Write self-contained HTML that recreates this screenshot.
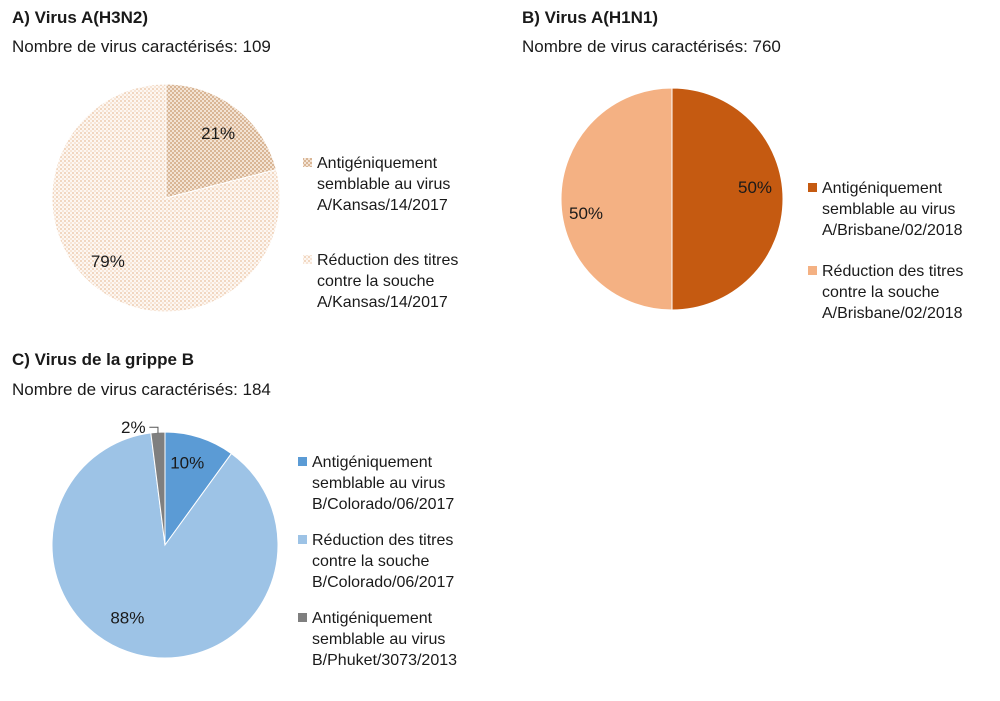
<!DOCTYPE html>
<html><head><meta charset="utf-8"><style>
body{margin:0;background:#fff;width:1000px;height:696px;overflow:hidden;font-family:"Liberation Sans",sans-serif}
svg text{font-family:"Liberation Sans",sans-serif;fill:#1a1a1a}
</style></head><body>
<svg id="c" width="1000" height="696">
<defs>
<pattern id="pd" width="4" height="4" patternUnits="userSpaceOnUse"><rect width="4" height="4" fill="#f3e3d4"/><rect width="2" height="2" fill="#d9b696"/><rect x="2" y="2" width="2" height="2" fill="#d9b696"/></pattern>
<pattern id="pl" width="4" height="4" patternUnits="userSpaceOnUse"><rect width="4" height="4" fill="#fdf7f2"/><rect width="2" height="2" fill="#f1d7c1"/><rect x="2" y="2" width="2" height="2" fill="#f7e5d6"/></pattern>
</defs>
<text x="12" y="23" font-size="17" font-weight="bold">A) Virus A(H3N2)</text>
<text x="12" y="52" font-size="17">Nombre de virus caractérisés:  109</text>
<text x="522" y="23" font-size="17" font-weight="bold">B) Virus A(H1N1)</text>
<text x="522" y="52" font-size="17">Nombre de virus caractérisés:  760</text>
<text x="12" y="365" font-size="17" font-weight="bold">C) Virus de la grippe B</text>
<text x="12" y="395" font-size="17">Nombre de virus caractérisés:  184</text>
<g id="pies"></g>
</svg>
<script>
const aValues=[21,79];
const aLabels=["21%","79%"];
const bValues=[50,50];
const bLabels=["50%","50%"];
const cValues=[10,88,2];
const cLabels=["10%","88%","2%"];
const aLegend=[["Antigéniquement","semblable au virus","A/Kansas/14/2017"],["Réduction des titres","contre la souche","A/Kansas/14/2017"]];
const bLegend=[["Antigéniquement","semblable au virus","A/Brisbane/02/2018"],["Réduction des titres","contre la souche","A/Brisbane/02/2018"]];
const cLegend=[["Antigéniquement","semblable au virus","B/Colorado/06/2017"],["Réduction des titres","contre la souche","B/Colorado/06/2017"],["Antigéniquement","semblable au virus","B/Phuket/3073/2013"]];
const NS="http://www.w3.org/2000/svg";
const g=document.getElementById('pies');
function mk(t,a,p){const e=document.createElementNS(NS,t);for(const k in a)e.setAttribute(k,a[k]);(p||g).appendChild(e);return e;}
function pie(key,vals,labels,fills,cx,cy,r,lblR,off,legend,lx,ly,lgap){
  const tot=vals.reduce((s,v)=>s+v,0);let a0=0;
  vals.forEach((v,i)=>{
    const a1=a0+v/tot*2*Math.PI;
    const x0=cx+r*Math.sin(a0),y0=cy-r*Math.cos(a0),x1=cx+r*Math.sin(a1),y1=cy-r*Math.cos(a1);
    const big=(a1-a0)>Math.PI?1:0;
    const p=mk('path',{d:`M${cx},${cy}L${x0},${y0}A${r},${r} 0 ${big} 1 ${x1},${y1}Z`,fill:fills[i],stroke:'#fff','stroke-width':1});
    
    
    const am=(a0+a1)/2;
    const lr=lblR[i];
    const tx=cx+lr*Math.sin(am)+off[i][0],ty=cy-lr*Math.cos(am)+off[i][1];
    const t=mk('text',{x:tx,y:ty+6,'font-size':17,'text-anchor':'middle'});t.textContent=labels[i];
    
    
    if(lr>r){const ex=cx+(r-1)*Math.sin(am),ey=cy-(r-1)*Math.cos(am);
      const l=mk('path',{d:`M${tx+16},${ty}L${ex},${ty}L${ex},${ey}`,fill:'none',stroke:'#555','stroke-width':1});
      
      }
    a0=a1;
  });
  legend.forEach((lines,i)=>{
    const y=ly+i*lgap;
    const m=mk('rect',{x:lx,y:y-10,width:9,height:9,fill:fills[i]});
    
    
    lines.forEach((s,j)=>{const t=mk('text',{x:lx+14,y:y+j*21,'font-size':16});t.textContent=s;
      
      });
  });
}
pie('pie-a',aValues,aLabels,['url(#pd)','url(#pl)'],166,198,114,[72,72],[[8,-8],[-14,6]],aLegend,303,168,97);
pie('pie-b',bValues,bLabels,['#c55a11','#f4b183'],672,199,111,[85,85],[[-2,-12],[-1,14]],bLegend,808,193,83);
pie('pie-c',cValues,cLabels,['#5b9bd5','#9dc3e6','#7f7f7f'],165,545,113,[72,75,122],[[0,-14],[-19,0],[-24,4]],cLegend,298,467,78);
</script>
</body></html>
